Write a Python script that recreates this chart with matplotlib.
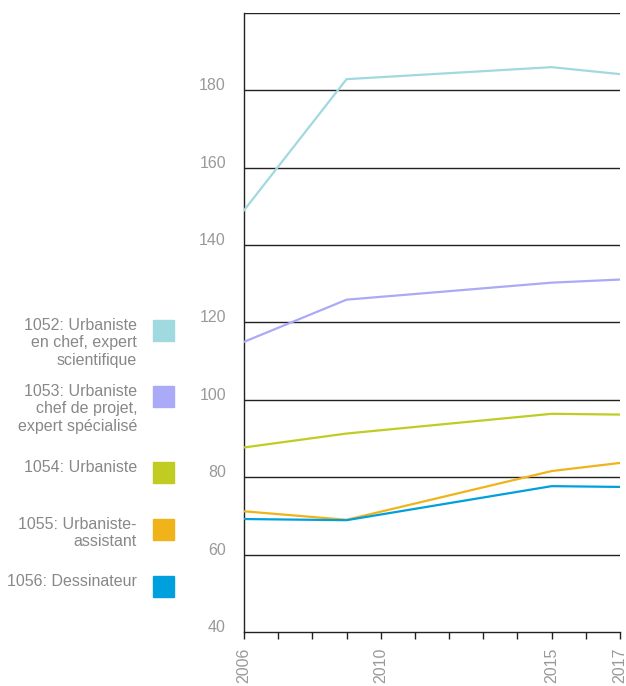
import matplotlib.pyplot as plt
from matplotlib.patches import Rectangle

plt.rcParams['font.family'] = ['Liberation Sans', 'DejaVu Sans']

years = [2006, 2009, 2015, 2017]
labels = [
    "1052: Urbaniste\nen chef, expert\nscientifique",
    "1053: Urbaniste\nchef de projet,\nexpert spécialisé",
    "1054: Urbaniste",
    "1055: Urbaniste-\nassistant",
    "1056: Dessinateur",
]
colors = ["#a0d9df", "#aaaaf7", "#c0cc22", "#f0b41a", "#00a0de"]
v1052 = [149.0, 182.9, 186.0, 184.2]
v1053 = [115.0, 125.9, 130.3, 131.1]
v1054 = [87.7, 91.3, 96.4, 96.2]
v1055 = [71.2, 69.0, 81.6, 83.7]
v1056 = [69.2, 68.9, 77.7, 77.5]
series = [v1052, v1053, v1054, v1055, v1056]

fig = plt.figure(figsize=(6.26, 6.86), dpi=100)
W, H = 626, 686
ax = fig.add_axes([244 / W, 1 - 632 / H, 376 / W, 619 / H])

for vals, c in zip(series, colors):
    ax.plot(years, vals, color=c, lw=1.6, solid_joinstyle='miter', zorder=3)

ax.set_xlim(2006, 2017)
ax.set_ylim(40, 200)
for y in range(60, 201, 20):
    ax.axhline(y, color='#222222', lw=1.0, zorder=1)

ax.set_yticks(range(40, 181, 20))
ax.tick_params(axis='y', length=0, pad=13, labelsize=11.5, labelcolor='#999999')
for t in ax.get_yticklabels():
    t.set_va('baseline')

all_years = list(range(2006, 2018))
ax.set_xticks(all_years)
ax.set_xticklabels([str(y) if y in (2006, 2010, 2015, 2017) else '' for y in all_years],
                   rotation=90)
ax.tick_params(axis='x', length=5, width=1, color='#222222', pad=6,
               labelsize=11.5, labelcolor='#999999')

for s in ('top', 'right'):
    ax.spines[s].set_visible(False)
for s in ('left', 'bottom'):
    ax.spines[s].set_color('#222222')
    ax.spines[s].set_linewidth(1.0)

# legend on the left
tops = [320, 386, 462, 519, 576]
for lab, c, top in zip(labels, colors, tops):
    fig.patches.append(Rectangle((153 / W, 1 - (top + 21) / H), 21 / W, 21 / H,
                                 transform=fig.transFigure, color=c))
    fig.text(137 / W, 1 - (top - 2) / H, lab, ha='right', va='top',
             fontsize=11.5, color='#888888', linespacing=1.2)

fig.savefig('out.png', dpi=100)
